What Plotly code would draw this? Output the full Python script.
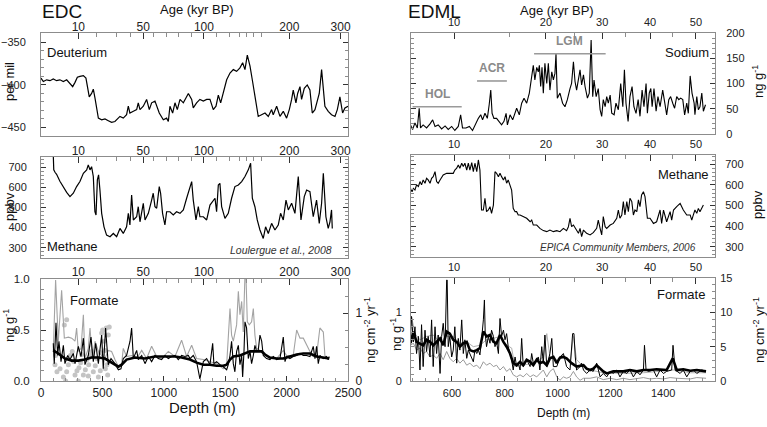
import plotly.graph_objects as go

FONT = "Liberation Sans, Arial, sans-serif"
FRAME = "#8c8c8c"
TICK = "#333333"
W, H = 767, 427

# ---------------- EDC (x = depth in m) ----------------
edc_age_depth = [304, 833, 1327, 2022, 2440]
edc_age_text = ["10", "50", "100", "200", "300"]
edc_age_minor = [453, 611, 725, 915, 1023, 1118, 1227, 1430, 1539, 1620, 1675, 1734, 1797]

dd_depth = [0, 19, 46, 73, 100, 127, 154, 182, 209, 236,
            258, 277, 296, 317, 345, 366, 377, 393, 412, 426,
            439, 453, 467, 494, 521, 548, 575, 602, 621, 643,
            670, 697, 711, 724, 752, 779, 792, 806, 833, 860,
            882, 901, 928, 963, 996, 1023, 1037, 1050, 1072, 1091,
            1110, 1132, 1159, 1200, 1227, 1240, 1267, 1294, 1322, 1349,
            1376, 1403, 1425, 1444, 1463, 1484, 1512, 1539, 1566, 1593,
            1620, 1642, 1661, 1680, 1702, 1723, 1742, 1756, 1769, 1796,
            1824, 1851, 1878, 1891, 1919, 1946, 1973, 2000, 2022, 2041,
            2054, 2076, 2090, 2109, 2122, 2144, 2168, 2190, 2209, 2231,
            2250, 2266, 2285, 2299, 2312, 2339, 2366, 2394, 2413, 2434,
            2456, 2475, 2500]
dd_value = [-392, -396, -394, -395, -393, -395, -394, -396, -394, -398,
            -402, -397, -391, -390, -389, -392, -402, -414, -410, -405,
            -415, -425, -439, -441, -440, -442, -444, -443, -440, -437,
            -439, -435, -425, -433, -431, -429, -421, -429, -425, -417,
            -429, -421, -419, -433, -441, -439, -443, -425, -433, -421,
            -429, -417, -421, -410, -417, -427, -421, -417, -419, -417,
            -417, -429, -425, -412, -421, -410, -394, -386, -382, -384,
            -380, -374, -382, -365, -378, -396, -414, -429, -437, -435,
            -433, -437, -429, -435, -425, -437, -431, -439, -429, -417,
            -406, -421, -410, -402, -417, -404, -400, -406, -433, -429,
            -417, -410, -382, -402, -425, -431, -435, -437, -429, -414,
            -433, -427, -425]

ch4c_depth = [100, 104, 114, 127, 154, 182, 209, 236, 263, 290,
              317, 345, 372, 385, 399, 412, 426, 439, 448, 459,
              469, 480, 494, 513, 534, 562, 589, 616, 643, 670,
              697, 711, 724, 738, 752, 779, 792, 806, 833, 847,
              874, 901, 914, 928, 942, 963, 974, 990, 1009, 1023,
              1050, 1077, 1104, 1132, 1159, 1186, 1213, 1227, 1240, 1262,
              1281, 1294, 1322, 1349, 1376, 1403, 1417, 1430, 1444, 1457,
              1471, 1498, 1525, 1552, 1579, 1607, 1634, 1661, 1688, 1707,
              1721, 1742, 1761, 1783, 1810, 1829, 1851, 1878, 1905, 1932,
              1951, 1973, 1995, 2014, 2041, 2068, 2095, 2117, 2144, 2163,
              2190, 2217, 2244, 2266, 2285, 2299, 2320, 2339, 2353, 2366,
              2372]
ch4c_value = [760, 687, 675, 665, 630, 598, 575, 554, 571, 604,
              629, 670, 687, 712, 687, 703, 654, 479, 463, 637,
              662, 587, 471, 404, 363, 355, 371, 355, 396, 371,
              404, 471, 413, 562, 438, 454, 504, 429, 521, 438,
              471, 537, 571, 504, 496, 604, 571, 471, 413, 479,
              479, 463, 479, 471, 488, 546, 604, 629, 537, 438,
              504, 454, 454, 438, 512, 537, 546, 479, 612, 620,
              504, 446, 471, 546, 604, 612, 629, 654, 687, 720,
              546, 504, 438, 388, 346, 404, 371, 421, 388, 413,
              471, 438, 537, 488, 521, 471, 654, 438, 554, 587,
              579, 454, 537, 421, 521, 670, 454, 396, 429, 488,
              396]

fc_gray_depth = [100, 119, 141, 168, 190, 223, 250, 277, 290, 304,
                 326, 345, 358, 385, 399, 418, 440, 467, 494, 521,
                 548, 575, 602, 630, 657, 670, 697, 738, 779, 820,
                 860, 901, 942, 982, 1037, 1091, 1145, 1186, 1227, 1267,
                 1322, 1376, 1430, 1484, 1512, 1539, 1552, 1566, 1593, 1607,
                 1620, 1634, 1647, 1661, 1669, 1680, 1696, 1715, 1729, 1742,
                 1756, 1783, 1810, 1864, 1919, 1973, 2000, 2027, 2054, 2082,
                 2109, 2136, 2163, 2190, 2217, 2244, 2271, 2299, 2312, 2326,
                 2347]
fc_gray_value = [0.29, 0.99, 0.39, 0.89, 0.42, 0.43, 0.42, 0.39, 0.52, 0.29,
                 0.32, 0.65, 0.22, 0.32, 0.52, 0.22, 0.39, 0.29, 0.25, 0.22,
                 0.30, 0.29, 0.21, 0.14, 0.17, 0.32, 0.24, 0.25, 0.22, 0.30,
                 0.22, 0.34, 0.24, 0.22, 0.29, 0.24, 0.40, 0.24, 0.35, 0.22,
                 0.21, 0.19, 0.17, 0.12, 0.16, 0.71, 0.45, 0.39, 0.55, 0.88,
                 0.65, 0.78, 0.48, 1.04, 1.04, 0.58, 0.55, 0.58, 0.71, 0.45,
                 0.32, 0.30, 0.27, 0.22, 0.22, 0.30, 0.25, 0.25, 0.25, 0.50,
                 0.42, 0.42, 0.35, 0.29, 0.24, 0.25, 0.52, 0.48, 0.25, 0.22,
                 0.21]

fc_black_depth = [100, 108, 122, 136, 146, 163, 182, 195, 217, 236,
                  263, 277, 304, 326, 345, 358, 385, 407, 426, 445,
                  467, 494, 507, 526, 548, 570, 602, 630, 651, 670,
                  697, 725, 738, 752, 779, 792, 820, 847, 874, 901,
                  928, 955, 982, 1010, 1037, 1064, 1091, 1118, 1145, 1172,
                  1200, 1213, 1240, 1267, 1294, 1322, 1349, 1376, 1398, 1408,
                  1430, 1457, 1484, 1512, 1525, 1539, 1552, 1566, 1579, 1593,
                  1607, 1620, 1634, 1642, 1653, 1661, 1674, 1688, 1702, 1715,
                  1729, 1742, 1756, 1769, 1783, 1797, 1810, 1837, 1864, 1892,
                  1919, 1946, 1973, 1987, 2000, 2027, 2054, 2082, 2109, 2136,
                  2163, 2190, 2217, 2231, 2244, 2258, 2271, 2299, 2326, 2339,
                  2347]
fc_black_value = [0.37, 0.17, 0.57, 0.25, 0.39, 0.19, 0.35, 0.17, 0.25, 0.21,
                  0.27, 0.17, 0.34, 0.24, 0.42, 0.16, 0.25, 0.43, 0.19, 0.37,
                  0.17, 0.45, 0.12, 0.52, 0.16, 0.22, 0.17, 0.11, 0.12, 0.22,
                  0.25, 0.39, 0.52, 0.22, 0.30, 0.21, 0.25, 0.17, 0.24, 0.19,
                  0.25, 0.22, 0.21, 0.25, 0.22, 0.24, 0.25, 0.21, 0.25, 0.24,
                  0.25, 0.22, 0.25, 0.19, 0.02, 0.19, 0.22, 0.16, 0.37, 0.17,
                  0.19, 0.16, 0.14, 0.11, 0.16, 0.25, 0.39, 0.17, 0.09, 0.29,
                  0.35, 0.16, 0.25, 0.04, 0.29, 0.58, 0.52, 0.22, 0.29, 0.17,
                  0.25, 0.35, 0.29, 0.30, 0.45, 0.39, 0.25, 0.22, 0.21, 0.24,
                  0.21, 0.22, 0.43, 0.19, 0.24, 0.22, 0.24, 0.25, 0.27, 0.25,
                  0.25, 0.24, 0.34, 0.22, 0.34, 0.17, 0.25, 0.22, 0.24, 0.21,
                  0.24]

fc_smooth_depth = [100, 141, 195, 250, 304, 358, 412, 467, 521, 575,
                   630, 657, 697, 765, 847, 928, 1010, 1091, 1145, 1213,
                   1267, 1322, 1376, 1430, 1484, 1512, 1539, 1566, 1620, 1674,
                   1702, 1756, 1797, 1824, 1864, 1919, 1973, 2027, 2082, 2136,
                   2190, 2244, 2299, 2347]
fc_smooth_value = [0.30, 0.27, 0.22, 0.20, 0.20, 0.21, 0.23, 0.23, 0.22, 0.18,
                   0.14, 0.16, 0.21, 0.23, 0.22, 0.24, 0.24, 0.24, 0.23, 0.21,
                   0.18, 0.16, 0.16, 0.15, 0.15, 0.16, 0.21, 0.24, 0.25, 0.28,
                   0.29, 0.29, 0.29, 0.26, 0.23, 0.22, 0.22, 0.24, 0.26, 0.27,
                   0.27, 0.24, 0.23, 0.22]

fc_dot_depth = [209, 190, 119, 114, 130, 155, 182, 209, 223, 239,
                255, 266, 277, 293, 309, 323, 345, 361, 374, 388,
                402, 415, 426, 442, 456, 467, 483, 494, 502, 513,
                521, 532, 537, 548, 543, 556, 524, 483, 385, 304,
                201, 331]
fc_dot_value = [0.60, 0.55, 0.25, 0.16, 0.09, 0.12, 0.04, 0.09, 0.16, 0.25,
                0.29, 0.19, 0.06, 0.10, 0.13, 0.18, 0.06, 0.11, 0.21, 0.16,
                0.25, 0.29, 0.09, 0.15, 0.22, 0.04, 0.28, 0.47, 0.50, 0.39,
                0.30, 0.52, 0.16, 0.45, 0.06, 0.53, 0.12, 0.10, 0.05, 0.00,
                0.00, 0.26]

# ---------------- EDML (x = depth in m) ----------------
edml_age_depth = [608, 956, 1169, 1350, 1524]
edml_age_text = ["10", "20", "30", "40", "50"]
edml_age_minor = [817, 1063, 1258, 1436]

na_depth = [443, 451, 460, 469, 476, 481, 491, 504, 517, 527,
            536, 548, 561, 574, 586, 599, 611, 624, 633, 640,
            653, 666, 678, 691, 700, 709, 716, 725, 734, 741,
            747, 752, 759, 769, 779, 788, 797, 805, 810, 820,
            830, 839, 845, 855, 864, 873, 883, 893, 902, 908,
            914, 921, 927, 931, 936, 941, 946, 952, 959, 965,
            971, 978, 984, 990, 994, 999, 1009, 1019, 1028, 1037,
            1047, 1053, 1060, 1066, 1072, 1079, 1085, 1091, 1098, 1104,
            1113, 1120, 1127, 1133, 1138, 1146, 1154, 1161, 1167, 1173,
            1180, 1186, 1192, 1199, 1205, 1214, 1221, 1230, 1239, 1247,
            1253, 1259, 1267, 1274, 1282, 1289, 1297, 1305, 1312, 1320,
            1327, 1335, 1340, 1347, 1353, 1358, 1365, 1373, 1380, 1388,
            1398, 1406, 1413, 1421, 1428, 1436, 1443, 1451, 1459, 1466,
            1474, 1481, 1489, 1495, 1502, 1509, 1517, 1520, 1527, 1533,
            1539, 1546, 1552, 1560]
na_value = [18, 9, 22, 12, 51, 12, 18, 12, 20, 28,
            15, 18, 10, 16, 9, 15, 7, 15, 38, 12,
            12, 15, 7, 22, 31, 38, 28, 41, 31, 58,
            87, 41, 31, 31, 25, 18, 25, 41, 18, 38,
            28, 41, 51, 38, 61, 71, 61, 81, 113, 136,
            107, 132, 123, 136, 94, 132, 81, 140, 100, 140,
            87, 123, 107, 120, 159, 71, 81, 61, 54, 68,
            90, 100, 143, 104, 87, 113, 127, 97, 117, 94,
            71, 81, 186, 74, 107, 74, 90, 48, 35, 68,
            54, 74, 61, 77, 41, 38, 61, 48, 100, 54,
            127, 61, 25, 74, 94, 54, 41, 68, 35, 87,
            54, 100, 41, 81, 90, 54, 90, 45, 74, 54,
            87, 61, 38, 68, 74, 61, 51, 74, 68, 71,
            68, 38, 61, 41, 115, 81, 61, 38, 74, 48,
            54, 81, 45, 58]

period_name = ["HOL", "ACR", "LGM"]
period_start = [451, 695, 911]
period_end = [637, 808, 1182]
period_level = [54, 105, 159]

ch4m_depth = [443, 449, 454, 460, 466, 473, 479, 485, 491, 498,
              504, 510, 517, 523, 529, 536, 542, 548, 555, 561,
              567, 580, 592, 605, 611, 618, 624, 630, 637, 643,
              649, 656, 662, 668, 675, 681, 687, 694, 700, 706,
              712, 719, 725, 731, 738, 744, 750, 757, 763, 769,
              776, 782, 788, 795, 801, 807, 813, 820, 826, 832,
              839, 845, 851, 858, 870, 883, 896, 902, 908, 921,
              933, 946, 959, 971, 984, 997, 1009, 1022, 1034, 1041,
              1047, 1053, 1060, 1072, 1079, 1085, 1091, 1098, 1110, 1123,
              1135, 1148, 1154, 1161, 1167, 1173, 1180, 1186, 1199, 1211,
              1224, 1230, 1236, 1243, 1249, 1255, 1262, 1268, 1274, 1281,
              1287, 1293, 1300, 1306, 1312, 1318, 1325, 1331, 1340, 1350,
              1363, 1375, 1388, 1394, 1401, 1413, 1426, 1432, 1439, 1451,
              1464, 1476, 1489, 1502, 1508, 1514, 1520, 1527, 1533, 1539,
              1552]
ch4m_value = [583, 567, 583, 575, 600, 592, 616, 600, 624, 608,
              632, 624, 608, 632, 640, 664, 616, 608, 624, 640,
              648, 656, 656, 656, 672, 681, 697, 681, 705, 689,
              705, 672, 705, 672, 708, 664, 705, 664, 721, 672,
              478, 478, 535, 470, 478, 494, 462, 502, 664, 656,
              640, 656, 640, 624, 640, 608, 624, 592, 575, 486,
              470, 470, 454, 454, 446, 438, 421, 429, 405, 405,
              389, 378, 373, 381, 373, 378, 373, 389, 378, 397,
              438, 397, 405, 381, 365, 389, 349, 381, 365, 357,
              368, 389, 429, 389, 357, 446, 397, 389, 405, 413,
              438, 478, 438, 454, 519, 454, 519, 470, 535, 519,
              454, 478, 470, 527, 494, 551, 567, 543, 438, 438,
              413, 421, 478, 413, 478, 421, 470, 429, 478, 494,
              510, 478, 454, 454, 429, 454, 478, 462, 486, 470,
              502]

fm_smooth_depth = [443, 454, 466, 479, 491, 504, 517, 529, 542, 555,
                   567, 580, 592, 605, 618, 630, 643, 656, 668, 681,
                   694, 706, 719, 731, 744, 757, 769, 782, 795, 807,
                   820, 832, 845, 858, 870, 883, 896, 908, 921, 933,
                   946, 959, 971, 984, 997, 1009, 1022, 1034, 1053, 1072,
                   1098, 1110, 1123, 1135, 1148, 1161, 1173, 1186, 1211, 1249,
                   1274, 1300, 1325, 1350, 1375, 1413, 1436, 1451, 1476, 1502,
                   1527, 1562]
fm_smooth_value = [0.55, 0.72, 0.57, 0.55, 0.52, 0.60, 0.57, 0.52, 0.57, 0.62,
                   0.52, 0.72, 0.69, 0.60, 0.57, 0.50, 0.55, 0.57, 0.45, 0.43,
                   0.45, 0.48, 0.72, 0.65, 0.67, 0.57, 0.55, 0.67, 0.57, 0.50,
                   0.40, 0.26, 0.23, 0.28, 0.23, 0.31, 0.28, 0.23, 0.31, 0.26,
                   0.28, 0.23, 0.33, 0.35, 0.26, 0.34, 0.35, 0.33, 0.26, 0.21,
                   0.23, 0.18, 0.16, 0.18, 0.23, 0.18, 0.14, 0.11, 0.14, 0.14,
                   0.16, 0.14, 0.16, 0.16, 0.17, 0.16, 0.33, 0.16, 0.17, 0.15,
                   0.16, 0.14]

fm_black_depth = [443, 447, 454, 460, 466, 473, 479, 485, 491, 498,
                  504, 510, 517, 523, 529, 536, 542, 548, 555, 561,
                  567, 574, 580, 582, 586, 592, 599, 605, 611, 618,
                  624, 630, 637, 643, 649, 656, 662, 668, 675, 681,
                  687, 694, 700, 706, 712, 719, 723, 726, 731, 738,
                  744, 750, 757, 763, 769, 776, 782, 788, 795, 801,
                  807, 813, 820, 826, 832, 839, 845, 851, 858, 864,
                  870, 883, 896, 902, 908, 921, 927, 933, 940, 946,
                  952, 959, 971, 978, 984, 997, 1009, 1022, 1034, 1047,
                  1057, 1062, 1067, 1072, 1085, 1091, 1098, 1110, 1123, 1135,
                  1148, 1154, 1161, 1173, 1186, 1199, 1211, 1224, 1236, 1249,
                  1262, 1274, 1287, 1300, 1312, 1325, 1329, 1335, 1344, 1363,
                  1375, 1388, 1401, 1413, 1432, 1437, 1445, 1464, 1476, 1489,
                  1502, 1514, 1527, 1546, 1562]
fm_black_value = [0.67, 0.94, 0.57, 0.79, 0.40, 0.65, 0.16, 0.82, 0.21, 0.74,
                  0.43, 0.65, 0.35, 0.89, 0.21, 0.79, 0.40, 0.67, 0.11, 0.65,
                  0.84, 0.50, 1.47, 1.47, 0.50, 0.65, 0.35, 0.45, 0.79, 0.26,
                  0.62, 0.45, 0.89, 0.40, 0.60, 0.33, 0.45, 0.40, 0.35, 0.28,
                  0.45, 0.40, 0.45, 0.38, 0.60, 0.89, 1.18, 0.69, 0.50, 0.65,
                  0.55, 0.74, 0.65, 0.50, 0.57, 0.40, 0.91, 0.65, 0.74, 0.60,
                  0.69, 0.50, 0.40, 0.31, 0.16, 0.35, 0.21, 0.26, 0.16, 0.62,
                  0.21, 0.31, 0.21, 0.40, 0.26, 0.31, 0.35, 0.16, 0.50, 0.26,
                  0.67, 0.21, 0.40, 0.62, 0.21, 0.21, 0.35, 0.40, 0.21, 0.16,
                  0.69, 0.69, 0.35, 0.16, 0.21, 0.26, 0.16, 0.11, 0.16, 0.14,
                  0.26, 0.16, 0.06, 0.11, 0.06, 0.14, 0.11, 0.16, 0.06, 0.14,
                  0.11, 0.16, 0.06, 0.14, 0.09, 0.16, 0.52, 0.16, 0.14, 0.16,
                  0.06, 0.16, 0.11, 0.14, 0.16, 0.52, 0.16, 0.11, 0.16, 0.06,
                  0.14, 0.16, 0.11, 0.16, 0.14]

fm_low_depth = [443, 454, 466, 479, 491, 504, 517, 529, 542, 555,
                567, 580, 592, 605, 618, 630, 643, 656, 668, 681,
                694, 706, 719, 731, 744, 757, 769, 782, 795, 807,
                820, 832, 845, 858, 870, 883, 896, 908, 921, 933,
                946, 959, 971, 984, 997, 1009, 1022, 1034, 1047, 1060,
                1072, 1085, 1098, 1123, 1148, 1173, 1199, 1224, 1249, 1274,
                1300, 1325, 1350, 1375, 1401, 1426, 1451, 1476, 1502, 1527,
                1562]
fm_low_value = [0.52, 0.55, 0.45, 0.48, 0.40, 0.43, 0.35, 0.38, 0.33, 0.40,
                0.31, 0.43, 0.33, 0.28, 0.33, 0.26, 0.31, 0.23, 0.26, 0.21,
                0.23, 0.18, 0.28, 0.23, 0.26, 0.21, 0.23, 0.16, 0.21, 0.14,
                0.18, 0.09, 0.06, 0.09, 0.06, 0.11, 0.06, 0.09, 0.06, 0.11,
                0.16, 0.06, 0.14, 0.18, 0.06, 0.01, 0.06, 0.04, 0.06, 0.14,
                0.06, 0.01, 0.04, 0.04, 0.06, 0.02, 0.04, 0.02, 0.04, 0.02,
                0.04, 0.05, 0.03, 0.04, 0.03, 0.05, 0.04, 0.04, 0.03, 0.05,
                0.04]

fm_mid_depth = [443, 447, 460, 479, 504, 529, 555, 580, 605, 630,
                656, 681, 706, 731, 757, 782, 807, 826, 839, 870,
                908, 946, 959, 971, 997, 1022, 1047, 1060, 1072, 1098,
                1123, 1173, 1249, 1325, 1375, 1439, 1502, 1562]
fm_mid_value = [0.62, 0.94, 0.69, 0.60, 0.65, 0.67, 0.57, 0.65, 0.65, 0.55,
                0.57, 0.50, 0.52, 0.60, 0.62, 0.65, 0.52, 0.48, 0.21, 0.23,
                0.26, 0.35, 0.69, 0.35, 0.31, 0.38, 0.26, 0.65, 0.31, 0.21,
                0.16, 0.12, 0.11, 0.12, 0.14, 0.16, 0.12, 0.12]


def px(x):
    return x / W


def py(y):
    return 1 - y / H


def ydom(top, bottom):
    return [py(bottom), py(top)]


XL = [px(41), px(348)]
XR = [px(411), px(715)]
EDC_RANGE = [0, 2500]
EDML_RANGE = [445, 1596]

fig = go.Figure()


def add_line(x, y, xa, ya, color="black", width=1.0):
    fig.add_trace(go.Scatter(x=x, y=y, xaxis=xa, yaxis=ya, mode="lines",
                             line=dict(color=color, width=width),
                             showlegend=False, hoverinfo="skip"))


# EDC
add_line(dd_depth, dd_value, "x", "y", width=1.2)
add_line(ch4c_depth, ch4c_value, "x2", "y2", width=1.2)
fig.add_trace(go.Scatter(x=fc_dot_depth, y=fc_dot_value, xaxis="x3", yaxis="y3",
                         mode="markers", marker=dict(color="#c4c4c4", size=5),
                         showlegend=False, hoverinfo="skip"))
add_line(fc_gray_depth, fc_gray_value, "x3", "y3", color="#a3a3a3", width=1.1)
add_line(fc_black_depth, fc_black_value, "x3", "y3", width=1.1)
add_line(fc_smooth_depth, fc_smooth_value, "x3", "y3", width=2.6)

# EDML
add_line(na_depth, na_value, "x4", "y4", width=1.1)
add_line(ch4m_depth, ch4m_value, "x5", "y5", width=1.1)
add_line(fm_low_depth, fm_low_value, "x6", "y6", color="#9a9a9a", width=1.0)
add_line(fm_mid_depth, fm_mid_value, "x6", "y6", color="#b0b0b0", width=1.0)
add_line(fm_black_depth, fm_black_value, "x6", "y6", width=1.0)
add_line(fm_smooth_depth, fm_smooth_value, "x6", "y6", width=2.6)

# empty traces so the overlaid age / flux axes get drawn
for xa, ya in [("x7", "y"), ("x8", "y2"), ("x9", "y3"), ("x10", "y4"),
               ("x11", "y5"), ("x12", "y6"), ("x3", "y7"), ("x6", "y8")]:
    fig.add_trace(go.Scatter(x=[], y=[], xaxis=xa, yaxis=ya, showlegend=False))


def depth_axis(dom, rng, anchor, labels, dtick=None, mdtick=None, size=12, standoff=3):
    ax = dict(domain=dom, range=rng, anchor=anchor, showline=True, linecolor=FRAME,
              linewidth=1, showgrid=False, zeroline=False, fixedrange=True,
              automargin=False)
    if labels:
        ax.update(ticks="inside", ticklen=5, tickcolor=TICK, dtick=dtick, tick0=0,
                  tickfont=dict(size=size, color="#222"), ticklabelstandoff=standoff,
                  minor=dict(dtick=mdtick, ticks="inside", ticklen=3, tickcolor=FRAME))
    else:
        ax.update(showticklabels=False, ticks="")
    return ax


def age_axis(overlay, anchor, rng, vals, text, minor_vals, size, standoff):
    return dict(overlaying=overlay, anchor=anchor, side="top", range=rng,
                tickmode="array", tickvals=vals, ticktext=text, ticks="inside",
                ticklen=6, tickcolor=TICK, showline=True, linecolor=FRAME,
                showgrid=False, zeroline=False, fixedrange=True, automargin=False,
                tickfont=dict(size=size, color="#222"), ticklabelstandoff=standoff,
                minor=dict(tickmode="array", tickvals=minor_vals, ticks="inside",
                           ticklen=4, tickcolor=FRAME))


def value_axis(dom, rng, anchor, side, size, standoff, dtick=None, mdtick=None,
               tickvals=None, ticktext=None, mirror="ticks", overlay=None):
    ax = dict(range=rng, anchor=anchor, side=side, showline=True, linecolor=FRAME,
              linewidth=1, mirror=mirror, ticks="inside", ticklen=5, tickcolor=TICK,
              showgrid=False, zeroline=False, fixedrange=True, automargin=False,
              tickfont=dict(size=size, color="#222"), ticklabelstandoff=standoff)
    if dom is not None:
        ax["domain"] = dom
    if overlay:
        ax["overlaying"] = overlay
    if tickvals is not None:
        ax.update(tickmode="array", tickvals=tickvals, ticktext=ticktext)
    else:
        ax.update(dtick=dtick, tick0=0)
    if mdtick:
        ax["minor"] = dict(dtick=mdtick, tick0=0, ticks="inside", ticklen=3, tickcolor=FRAME)
    return ax


L1, L2, L3 = ydom(33, 136), ydom(157, 258), ydom(279, 381)
R1, R2, R3 = ydom(33, 134), ydom(155, 257), ydom(278, 381)

fig.update_layout(
    template="none",
    width=W, height=H, margin=dict(l=0, r=0, t=0, b=0, pad=0),
    paper_bgcolor="white", plot_bgcolor="white",
    font=dict(family=FONT, size=12, color="#111"),
    showlegend=False,
    xaxis=depth_axis(XL, EDC_RANGE, "y", False),
    xaxis2=depth_axis(XL, EDC_RANGE, "y2", False),
    xaxis3=depth_axis(XL, EDC_RANGE, "y3", True, 500, 100, 12, 1),
    xaxis4=depth_axis(XR, EDML_RANGE, "y4", False),
    xaxis5=depth_axis(XR, EDML_RANGE, "y5", False),
    xaxis6=depth_axis(XR, EDML_RANGE, "y6", True, 200, 50, 11, 2),
    xaxis7=age_axis("x", "y", EDC_RANGE, edc_age_depth, edc_age_text, edc_age_minor, 12, -4),
    xaxis8=age_axis("x2", "y2", EDC_RANGE, edc_age_depth, edc_age_text, edc_age_minor, 12, -4),
    xaxis9=age_axis("x3", "y3", EDC_RANGE, edc_age_depth, edc_age_text, edc_age_minor, 12, -3),
    xaxis10=age_axis("x4", "y4", EDML_RANGE, edml_age_depth, edml_age_text, edml_age_minor, 11, 2),
    xaxis11=age_axis("x5", "y5", EDML_RANGE, edml_age_depth, edml_age_text, edml_age_minor, 11, 2),
    xaxis12=age_axis("x6", "y6", EDML_RANGE, edml_age_depth, edml_age_text, edml_age_minor, 11, 2),
    yaxis=value_axis(L1, [-460, -339], "x", "left", 11, 12, dtick=50, mdtick=10),
    yaxis2=value_axis(L2, [249, 751], "x2", "left", 11, 11, dtick=100, mdtick=20),
    yaxis3=value_axis(L3, [0, 1], "x3", "left", 11.5, 8, tickvals=[0, 0.5, 1],
                      ticktext=["0.0", "0.5", "1.0"], mdtick=0.1, mirror=False),
    yaxis4=value_axis(R1, [0, 200], "x4", "right", 11, 8, dtick=50, mdtick=10),
    yaxis5=value_axis(R2, [250, 745], "x5", "right", 11, 7, dtick=100, mdtick=20),
    yaxis6=value_axis(R3, [0, 1.5], "x6", "left", 11, 6, tickvals=[0, 1],
                      ticktext=["0", "1"], mdtick=0.1, mirror=False),
    yaxis7=value_axis(None, [0, 1.5], "x3", "right", 12, 4, tickvals=[0, 1],
                      ticktext=["0", "1"], mdtick=0.25, mirror=False, overlay="y3"),
    yaxis8=value_axis(None, [0, 15], "x6", "right", 11, 2, dtick=5, mdtick=1,
                      mirror=False, overlay="y6"),
)

# period bars in the sodium panel
for name, a, b, lev in zip(period_name, period_start, period_end, period_level):
    fig.add_shape(type="line", xref="x4", yref="y4", x0=a, x1=b, y0=lev, y1=lev,
                  line=dict(color="#9a9a9a", width=1.6))
    fig.add_annotation(xref="x4", yref="y4", x=(a + b) / 2, y=lev, text=f"<b>{name}</b>",
                       showarrow=False, yanchor="bottom", yshift=4,
                       font=dict(size=12, color="#8a8a8a"))


def note(x, y, text, size=13, xanchor="center", angle=0, italic=False, color="#111"):
    fig.add_annotation(xref="paper", yref="paper", x=px(x), y=py(y), text=text,
                       showarrow=False, xanchor=xanchor, yanchor="middle",
                       textangle=angle,
                       font=dict(size=size, color=color,
                                 style="italic" if italic else "normal"))


note(40, 11, "EDC", 19, xanchor="left")
note(406, 11, "EDML", 19, xanchor="left")
note(197, 9, "Age (kyr BP)", 13)
note(557, 10, "Age (kyr BP)", 13)
note(202, 407, "Depth (m)", 15)
note(563, 413, "Depth (m)", 12)

note(9, 82, "per mil", 13, angle=-90)
note(9, 207, "ppbv", 13, angle=-90)
note(9, 326, "ng g<sup>-1</sup>", 13, angle=-90)
note(370, 330, "ng cm<sup>-2</sup> yr<sup>-1</sup>", 13, angle=-90)
note(758, 82, "ng g<sup>-1</sup>", 13, angle=-90)
note(757, 205, "ppbv", 13, angle=-90)
note(396, 335, "ng g<sup>-1</sup>", 13, angle=-90)
note(759, 330, "ng cm<sup>-2</sup> yr<sup>-1</sup>", 13, angle=-90)

note(45, 52, "Deuterium", 13, xanchor="left")
note(45, 246, "Methane", 13, xanchor="left")
note(334, 250, "Loulergue et al., 2008", 10.5, xanchor="right", italic=True, color="#333")
note(68, 300, "Formate", 13, xanchor="left")
note(711, 52, "Sodium", 13, xanchor="right")
note(711, 174, "Methane", 13, xanchor="right")
note(698, 247, "EPICA Community Members, 2006", 10, xanchor="right", italic=True, color="#333")
note(707, 294, "Formate", 13, xanchor="right")

# the page body has a default 8 px margin; drop it so the figure starts at the corner
fig.write_html("out.html", config={"displayModeBar": False},
               post_script="document.body.style.margin='0';")
